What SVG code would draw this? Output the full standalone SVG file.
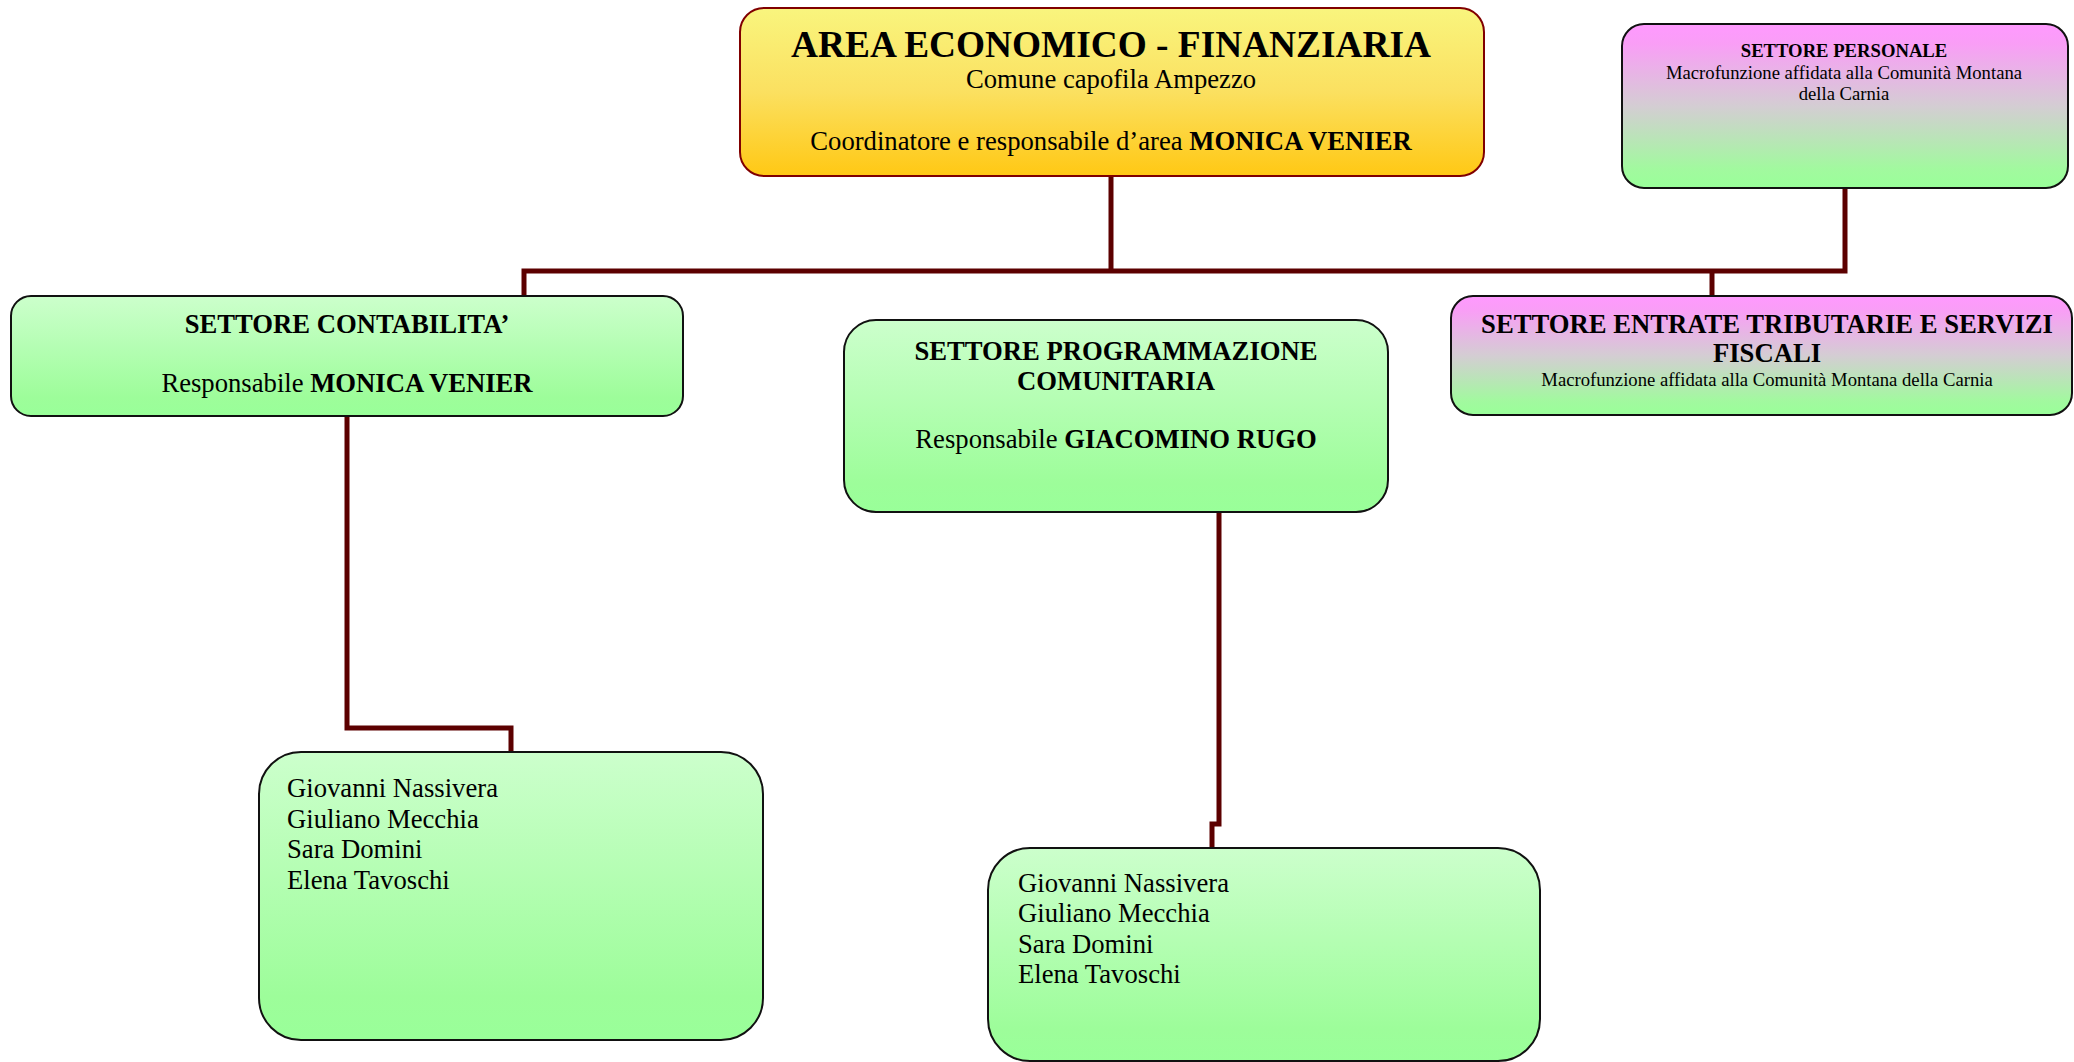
<svg xmlns="http://www.w3.org/2000/svg" width="2074" height="1062" viewBox="0 0 2074 1062">
<defs>
<linearGradient id="gYellow" x1="0" y1="0" x2="0" y2="1">
<stop offset="0" stop-color="#f9f57e"/>
<stop offset="0.5" stop-color="#fbe060"/>
<stop offset="1" stop-color="#ffc814"/>
</linearGradient>
<linearGradient id="gGreen" x1="0" y1="0" x2="0" y2="1">
<stop offset="0" stop-color="#ccffcc"/>
<stop offset="0.85" stop-color="#9dfd9a"/>
<stop offset="1" stop-color="#99ff99"/>
</linearGradient>
<linearGradient id="gPink" x1="0" y1="0" x2="0" y2="1">
<stop offset="0" stop-color="#ff99ff"/>
<stop offset="0.12" stop-color="#f99ef6"/>
<stop offset="0.5" stop-color="#d4cdd3"/>
<stop offset="0.88" stop-color="#a2f99f"/>
<stop offset="1" stop-color="#99ff99"/>
</linearGradient>
</defs>
<style>
text{font-family:"Liberation Serif","Times New Roman",serif;fill:#000;}
.box{stroke:#111;stroke-width:2;}
.green{fill:url(#gGreen);}
.pink{fill:url(#gPink);}
.top{fill:url(#gYellow);stroke:#800000;stroke-width:2;}
.b{font-weight:bold;}
.c{text-anchor:middle;}
.f37{font-size:37.33px;}
.f27{font-size:26.67px;}
.f19{font-size:18.67px;}
.conn{fill:none;stroke:#5c0000;stroke-width:5;stroke-linejoin:miter;stroke-linecap:butt;}
</style>

<g id="connectors">
<path class="conn" d="M1111,176 V271"/>
<path class="conn" d="M524,296 V271 H1845 V188"/>
<path class="conn" d="M1712,271 V296"/>
<path class="conn" d="M347,416 V728 H511 V752"/>
<path class="conn" d="M1219,512 V824 H1212 V848"/>
</g>

<g id="area">
<rect class="top" x="740" y="8" width="744" height="168" rx="24" ry="24"/>
<text class="c b f37" x="1111" y="57">AREA ECONOMICO - FINANZIARIA</text>
<text class="c f27" x="1111" y="88">Comune capofila Ampezzo</text>
<text class="c f27" x="1111" y="150">Coordinatore e responsabile d’area <tspan class="b">MONICA VENIER</tspan></text>
</g>

<g id="personale">
<rect class="box pink" x="1622" y="24" width="446" height="164" rx="22" ry="22"/>
<text class="c b f19" x="1844" y="57">SETTORE PERSONALE</text>
<text class="c f19" x="1844" y="79">Macrofunzione affidata alla Comunità Montana</text>
<text class="c f19" x="1844" y="100">della Carnia</text>
</g>

<g id="contabilita">
<rect class="box green" x="11" y="296" width="672" height="120" rx="20" ry="20"/>
<text class="c b f27" x="347" y="333">SETTORE CONTABILITA’</text>
<text class="c f27" x="347" y="392">Responsabile <tspan class="b">MONICA VENIER</tspan></text>
</g>

<g id="programmazione">
<rect class="box green" x="844" y="320" width="544" height="192" rx="32" ry="32"/>
<text class="c b f27" x="1116" y="360">SETTORE PROGRAMMAZIONE</text>
<text class="c b f27" x="1116" y="390">COMUNITARIA</text>
<text class="c f27" x="1116" y="448">Responsabile <tspan class="b">GIACOMINO RUGO</tspan></text>
</g>

<g id="entrate">
<rect class="box pink" x="1451" y="296" width="621" height="119" rx="22" ry="22"/>
<text class="c b f27" x="1767" y="333">SETTORE ENTRATE TRIBUTARIE E SERVIZI</text>
<text class="c b f27" x="1767" y="362">FISCALI</text>
<text class="c f19" x="1767" y="386">Macrofunzione affidata alla Comunità Montana della Carnia</text>
</g>

<g id="staff-contabilita">
<rect class="box green" x="259" y="752" width="504" height="288" rx="42" ry="42"/>
<text class="f27" x="287" y="797">Giovanni Nassivera</text>
<text class="f27" x="287" y="828">Giuliano Mecchia</text>
<text class="f27" x="287" y="858">Sara Domini</text>
<text class="f27" x="287" y="889">Elena Tavoschi</text>
</g>

<g id="staff-programmazione">
<rect class="box green" x="988" y="848" width="552" height="213" rx="42" ry="42"/>
<text class="f27" x="1018" y="892">Giovanni Nassivera</text>
<text class="f27" x="1018" y="922">Giuliano Mecchia</text>
<text class="f27" x="1018" y="953">Sara Domini</text>
<text class="f27" x="1018" y="983">Elena Tavoschi</text>
</g>
</svg>
